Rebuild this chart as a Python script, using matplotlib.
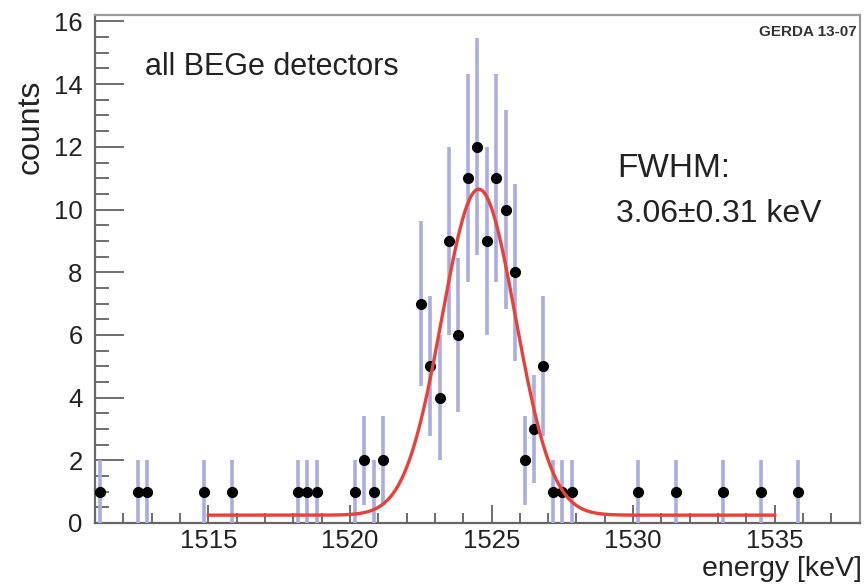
import numpy as np
import matplotlib.pyplot as plt

plt.rcParams['font.family'] = ['Liberation Sans', 'DejaVu Sans']

# histogram bins of 1/3 keV starting at 1511 keV: bin index and counts (non-empty bins only)
bin_index = [0, 4, 5, 11, 14, 21, 22, 23, 27, 28, 29, 30, 34, 35, 36, 37, 38, 39, 40,
             41, 42, 43, 44, 45, 46, 47, 48, 49, 50, 57, 61, 66, 70, 74]
counts = [1, 1, 1, 1, 1, 1, 1, 1, 1, 2, 1, 2, 7, 5, 4, 9, 6, 11, 12,
          9, 11, 10, 8, 2, 3, 5, 1, 1, 1, 1, 1, 1, 1, 1]

# fit result (gaussian + flat background)
fit_amp = 10.4
fit_mean = 1524.55
fit_fwhm = 3.06
fit_bkg = 0.25
fit_range = (1515, 1535)

bin_lo = 1511.0
bin_w = 1.0 / 3.0
energy = bin_lo + (np.array(bin_index) + 0.5) * bin_w
counts = np.array(counts, dtype=float)
err = np.sqrt(counts)

fig = plt.figure(figsize=(8.64, 5.84), dpi=100)
ax = fig.add_axes([0.110, 0.1045, 0.885, 0.8695])

ax.errorbar(energy, counts, yerr=err, fmt='o', color='black', ms=7,
            ecolor='#a9addf', elinewidth=2.6, capsize=0, zorder=3)

sig = fit_fwhm / 2.3548
xf = np.linspace(fit_range[0], fit_range[1], 400)
yf = fit_bkg + fit_amp * np.exp(-0.5 * ((xf - fit_mean) / sig) ** 2)
ax.plot(xf, yf, color='#e8413a', lw=2.4, zorder=4)

ax.set_xlim(1511, 1538)
ax.set_ylim(0, 16.2)
ax.set_xticks([1515, 1520, 1525, 1530, 1535])
ax.set_xticks(np.arange(1512, 1538, 1), minor=True)
ax.set_yticks(np.arange(0, 17, 2))
ax.set_yticks(np.arange(0, 16.5, 0.5), minor=True)

ax.tick_params(axis='both', which='both', direction='in', colors='#555555',
               labelcolor='#222222', labelsize=18.5, width=1.2)
ax.tick_params(axis='y', which='major', length=21, pad=9)
ax.tick_params(axis='y', which='minor', length=10)
ax.tick_params(axis='x', which='major', length=13, pad=4)
ax.tick_params(axis='x', which='minor', length=7)

for s in ['left', 'bottom']:
    ax.spines[s].set_color('#666666')
    ax.spines[s].set_linewidth(1.6)
for s in ['top', 'right']:
    ax.spines[s].set_color('#9a9a9a')
    ax.spines[s].set_linewidth(1.6)

fig.text(0.998, 0.004, 'energy [keV]', fontsize=20.5, color='#222222',
         ha='right', va='bottom')
fig.text(0.036, 1 - 127 / 584, 'counts', rotation=90, fontsize=23,
         color='#222222', ha='center', va='center')

ax.text(1512.75, 14.55, 'all BEGe detectors', fontsize=22, color='#222222',
        ha='left', va='center')
ax.text(1529.45, 11.3, 'FWHM:', fontsize=24, color='#222222', ha='left', va='center')
ax.text(1529.4, 9.85, '3.06\u00b10.31 keV', fontsize=23, color='#222222',
        ha='left', va='center')
ax.text(1537.9, 15.65, 'GERDA 13-07', fontsize=11, fontweight='bold',
        color='#333333', ha='right', va='center')

fig.savefig('out.png', dpi=100)
